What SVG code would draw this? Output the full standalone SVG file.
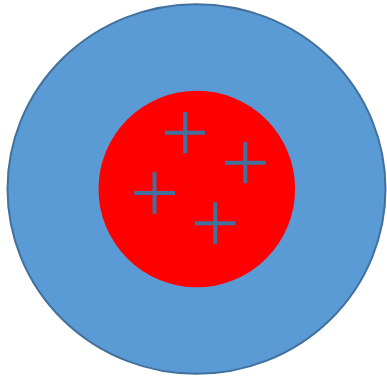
<svg xmlns="http://www.w3.org/2000/svg" width="387" height="379" viewBox="0 0 387 379">
  <style>
    .plus { stroke: #41719C; stroke-width: 4; fill: none; }
  </style>
  <rect width="387" height="379" fill="#FFFFFF"/>
  <g id="outer">
    <ellipse cx="196.5" cy="189" rx="189" ry="184.8" fill="#5B9BD5" stroke="#41719C" stroke-width="2"/>
  </g>
  <g id="inner">
    <ellipse cx="196.8" cy="189" rx="98.3" ry="98.3" fill="#FF0000"/>
  </g>
  <g id="charges">
    <path class="plus" d="M185.2 112 V153.3 M165 132.7 H205"/>
    <path class="plus" d="M245.3 142 V183.3 M225 162.7 H265.7"/>
    <path class="plus" d="M154.5 172.3 V213.7 M134.3 193 H175"/>
    <path class="plus" d="M215.2 202.3 V244 M195 223.2 H235.3"/>
  </g>
</svg>
